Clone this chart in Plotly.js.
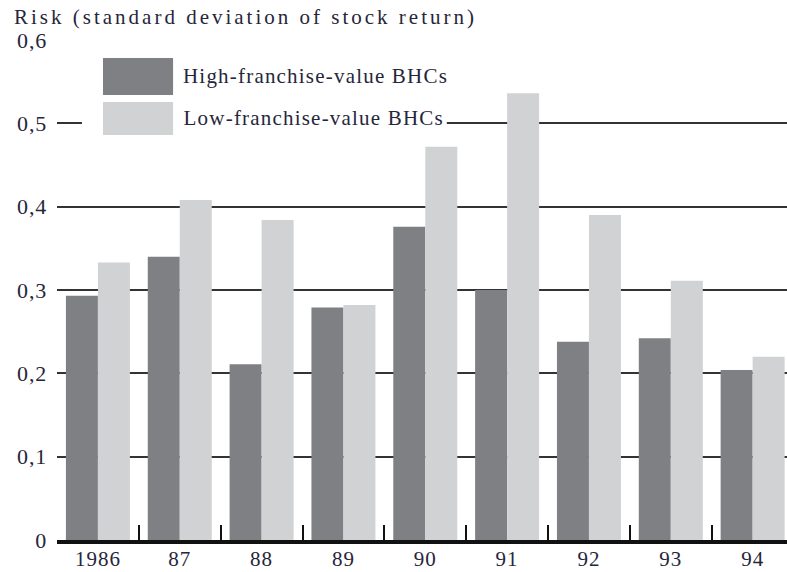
<!DOCTYPE html>
<html>
<head>
<meta charset="utf-8">
<script src="https://cdn.plot.ly/plotly-3.0.1.min.js"></script>
<style>
html,body{margin:0;padding:0;background:#fff;}
#chart{width:787px;height:572px;}
#chart text.gtitle{letter-spacing:3px;}
#chart g.annotation text{letter-spacing:1.2px;}
#chart g.xtick text{letter-spacing:1px;}
#chart g.ytick text{letter-spacing:0.8px;}
</style>
</head>
<body>
<div id="chart"></div>
<script>
// ---- data ----
const years = ['1986', '87', '88', '89', '90', '91', '92', '93', '94'];
const highFranchise = [0.293, 0.340, 0.211, 0.279, 0.376, 0.300, 0.238, 0.242, 0.204];
const lowFranchise  = [0.333, 0.408, 0.384, 0.282, 0.472, 0.536, 0.390, 0.311, 0.220];
const seriesNames = ['High-franchise-value BHCs', 'Low-franchise-value BHCs'];
const yTickValues = [0, 0.1, 0.2, 0.3, 0.4, 0.5, 0.6];
const chartTitle = 'Risk (standard deviation of stock return)';

const darkCol = '#7e8083';
const lightCol = '#d0d2d4';
const textCol = '#26263a';
const fontFam = 'Liberation Serif, Times New Roman, serif';

const traces = [
  {type: 'bar', name: seriesNames[0], x: years, y: highFranchise,
   marker: {color: darkCol, line: {width: 0}}, showlegend: false, hoverinfo: 'x+y'},
  {type: 'bar', name: seriesNames[1], x: years, y: lowFranchise,
   marker: {color: lightCol, line: {width: 0}}, showlegend: false, hoverinfo: 'x+y'}
];

// legend drawn as paper shapes (large swatches like the original)
const shapes = [
  {type: 'rect', xref: 'paper', yref: 'paper', x0: 0.0342, x1: 0.534, y0: 0.796, y1: 0.984,
   fillcolor: '#ffffff', line: {width: 0}, layer: 'above'},
  {type: 'rect', xref: 'paper', yref: 'paper', x0: 0.063, x1: 0.159, y0: 0.89, y1: 0.964,
   fillcolor: darkCol, line: {width: 0}, layer: 'above'},
  {type: 'rect', xref: 'paper', yref: 'paper', x0: 0.063, x1: 0.159, y0: 0.81, y1: 0.876,
   fillcolor: lightCol, line: {width: 0}, layer: 'above'}
];

const legendX = 0.1726 + 13/730;
const annotations = [
  {xref: 'paper', yref: 'paper', x: legendX, y: 0.927, xanchor: 'left', yanchor: 'middle',
   text: seriesNames[0], showarrow: false, font: {family: fontFam, size: 21, color: textCol}},
  {xref: 'paper', yref: 'paper', x: legendX, y: 0.845, xanchor: 'left', yanchor: 'middle',
   text: seriesNames[1], showarrow: false, font: {family: fontFam, size: 21, color: textCol}}
];

const layout = {
  width: 787, height: 572,
  margin: {l: 57, r: 0, t: 40, b: 32, pad: 0},
  paper_bgcolor: '#ffffff', plot_bgcolor: '#ffffff',
  font: {family: fontFam, size: 21, color: textCol},
  separators: ', ',
  title: {text: chartTitle, x: 14/787, xanchor: 'left', xref: 'container',
          y: 1 - 17/572, yanchor: 'middle', yref: 'container',
          font: {family: fontFam, size: 21, color: textCol}},
  barmode: 'group', bargap: 0.218, bargroupgap: 0,
  xaxis: {
    type: 'category', range: [-0.5, 8.42],
    showline: true, linecolor: '#111111', linewidth: 3.5,
    ticks: 'inside', tickson: 'boundaries', ticklen: 15, tickwidth: 2, tickcolor: '#111111',
    showgrid: false, zeroline: false, ticklabelstandoff: -3,
    tickfont: {family: fontFam, size: 21, color: textCol}
  },
  yaxis: {
    range: [0, 0.6], tickmode: 'array', tickvals: yTickValues,
    showgrid: true, gridcolor: '#333333', gridwidth: 2,
    zeroline: false, showline: false, ticks: '', ticklabelstandoff: 9,
    tickfont: {family: fontFam, size: 22, color: textCol}
  },
  shapes: shapes,
  annotations: annotations
};

// y labels with decimal comma, "0" at the origin
layout.yaxis.ticktext = yTickValues.map(v => v === 0 ? '0' : v.toFixed(1).replace('.', ','));

Plotly.newPlot('chart', traces, layout, {displayModeBar: false, staticPlot: true});
</script>
</body>
</html>
